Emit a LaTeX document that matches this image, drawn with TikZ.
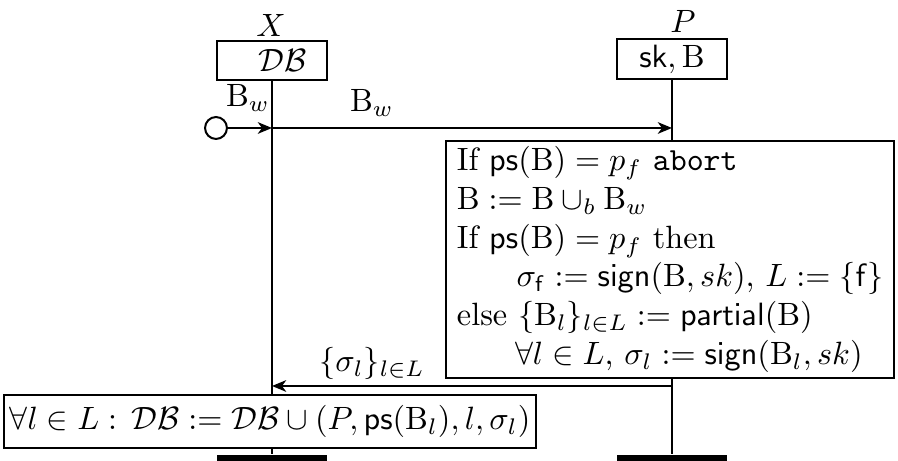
\documentclass[tikz,border=0pt]{standalone}
\usepackage{amsmath,amssymb}
\usetikzlibrary{arrows.meta}
\begin{document}
\begin{tikzpicture}[x=0.31pt,y=-0.31pt,
  line width=0.62pt,
  every node/.style={font=\fontsize{10pt}{12pt}\selectfont, inner sep=0pt},
  arr/.style={-{Stealth[length=4.4pt,width=3.6pt,inset=1.3pt]}},
  lifebox/.style={draw, minimum width=34.1pt, minimum height=12.1pt},
  bar/.style={fill=black, minimum width=34.1pt, minimum height=2.2pt},
  lbl/.style={anchor=base}]
\useasboundingbox (0,0) rectangle (898,461);
% participants
\node[lbl] (Xl) at (271,37) {$X$};
\node[lbl] (Pl) at (683,33) {$P$};
\node[lifebox] (Xb) at (272,60.5) {\hspace{6.8pt}$\mathcal{DB}$};
\node[lifebox] (Pb) at (672,59) {$\mathsf{sk},\mathrm{B}$};
% computation box
\node[draw, anchor=north west, text width=132.1pt, inner xsep=3.4pt,
      minimum height=73.5pt, align=left] (cb) at (445,140) {%
\mbox{If $\mathsf{ps}(\mathrm{B}) = p_f$ \texttt{abort}}\\
\mbox{$\mathrm{B} := \mathrm{B} \cup_b \mathrm{B}_w$}\\
\mbox{If $\mathsf{ps}(\mathrm{B}) = p_f$ then}\\
\mbox{\hspace*{18.5pt}$\sigma_{\mathsf{f}} := \mathsf{sign}(\mathrm{B}, sk)$, $L := \{\mathsf{f}\}$}\\
\mbox{else $\{\mathrm{B}_l\}_{l\in L} := \mathsf{partial}(\mathrm{B})$}\\
\mbox{\hspace*{18pt}$\forall l \in L$, $\sigma_l := \mathsf{sign}(\mathrm{B}_l, sk)$}};
% bottom box
\node[draw, inner xsep=1.6pt, minimum height=16.4pt] (bb) at (270,421.5)
  {$\forall l \in L :\, \mathcal{DB} := \mathcal{DB} \cup (P, \mathsf{ps}(\mathrm{B}_l), l, \sigma_l)$};
% end bars
\node[bar] (Xe) at (272,458.5) {};
\node[bar] (Pe) at (672,458.5) {};
% lifelines
\draw (Xb.south) -- (Xb.south |- bb.north);
\draw (Xb.south |- bb.south) -- (Xe.north);
\draw (Pb.south) -- (Pb.south |- cb.north);
\draw (Pb.south |- cb.south) -- (Pe.north);
% messages
\node[draw, circle, minimum size=6.8pt] (st) at (216,128) {};
\coordinate (xa) at (272,128);
\coordinate (pa) at (672,128);
\coordinate (pr) at (672,386);
\coordinate (xr) at (272,386);
\draw[arr] (st) -- (xa);
\draw[arr] (xa) -- (pa);
\draw[arr] (pr) -- (xr);
\node[anchor=base] (l1) at (248,107) {$\mathrm{B}_w$};
\node[anchor=base] (l2) at (372,112) {$\mathrm{B}_w$};
\node[anchor=base] (l3) at (372,372) {$\{\sigma_l\}_{l\in L}$};
\end{tikzpicture}
\end{document}
